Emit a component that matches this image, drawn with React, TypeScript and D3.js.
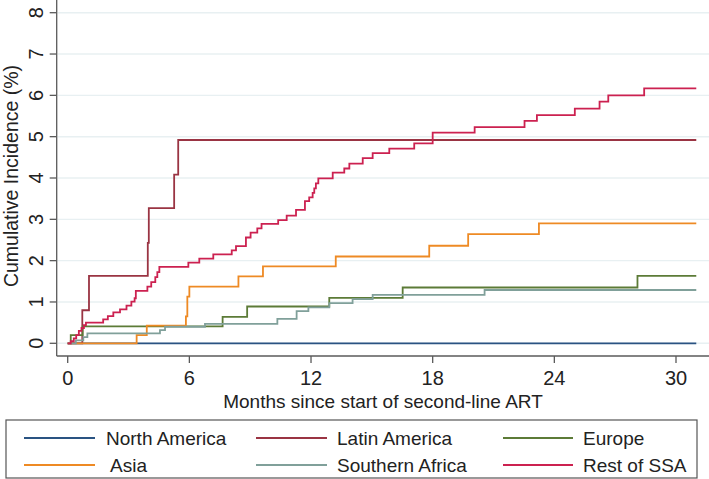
import React from "react";
import * as d3 from "d3";

type Pt = [number, number];

// Series (months since start of second-line ART, cumulative incidence %)
const northAmerica: Pt[] = [[0, 0], [31, 0]];
const latinAmerica: Pt[] = [[0, 0], [0.72, 0.8], [1.05, 1.63], [3.95, 2.43], [4.0, 3.27], [5.25, 4.08], [5.45, 4.92], [31, 4.92]];
const europe: Pt[] = [[0, 0], [0.15, 0.2], [0.74, 0.41], [7.64, 0.64], [8.85, 0.89], [12.9, 1.1], [16.52, 1.35], [28.1, 1.63], [31, 1.63]];
const asia: Pt[] = [[0, 0], [3.4, 0.2], [3.9, 0.43], [5.83, 0.65], [5.9, 1.13], [6.0, 1.37], [8.42, 1.62], [9.63, 1.86], [13.22, 2.1], [17.83, 2.36], [19.75, 2.64], [23.24, 2.9], [31, 2.9]];
const southernAfrica: Pt[] = [[0, 0], [0.4, 0.07], [0.77, 0.15], [0.97, 0.24], [4.55, 0.32], [4.8, 0.4], [6.77, 0.47], [10.34, 0.59], [11.29, 0.78], [11.87, 0.87], [12.9, 0.97], [14.05, 1.07], [15.04, 1.17], [20.56, 1.29], [31, 1.29]];
const restOfSSA: Pt[] = [[0, 0], [0.15, 0.05], [0.3, 0.12], [0.42, 0.2], [0.55, 0.3], [0.68, 0.37], [0.8, 0.44], [0.9, 0.5], [1.75, 0.58], [1.98, 0.66], [2.25, 0.75], [2.58, 0.82], [2.9, 0.91], [3.14, 1.01], [3.3, 1.09], [3.36, 1.27], [3.93, 1.37], [4.12, 1.48], [4.32, 1.6], [4.42, 1.72], [4.52, 1.85], [5.95, 1.95], [6.49, 2.05], [7.18, 2.15], [8.09, 2.25], [8.3, 2.35], [8.79, 2.56], [9.02, 2.68], [9.35, 2.78], [9.56, 2.89], [10.38, 2.98], [10.8, 3.09], [11.26, 3.23], [11.7, 3.44], [11.91, 3.53], [12.08, 3.64], [12.16, 3.75], [12.24, 3.87], [12.36, 3.99], [13.07, 4.13], [13.64, 4.23], [13.89, 4.35], [14.55, 4.48], [15.04, 4.6], [15.86, 4.71], [17.09, 4.84], [18.0, 5.1], [20.07, 5.23], [22.53, 5.38], [23.14, 5.52], [25.01, 5.68], [26.23, 5.85], [26.66, 6.0], [28.43, 6.17], [31, 6.17]];

const seriesNames = ["North America", "Latin America", "Europe", "Asia", "Southern Africa", "Rest of SSA"];
const seriesColors = ["#2a5382", "#9a3443", "#5c7b37", "#ee8a24", "#80a09a", "#cc2150"];
const seriesData = [northAmerica, latinAmerica, europe, asia, southernAfrica, restOfSSA];

const xTicks = [0, 6, 12, 18, 24, 30];
const yTicks = [0, 1, 2, 3, 4, 5, 6, 7, 8];
const xTitle = "Months since start of second-line ART";
const yTitle = "Cumulative Incidence (%)";

const FONT = "'Liberation Sans', Arial, Helvetica, sans-serif";

export default function App() {
  const W = 709;
  const H = 479;
  const axisX = 56.7;
  const axisY = 356;
  const x = d3.scaleLinear().domain([0, 30]).range([67.7, 676]);
  const y = d3.scaleLinear().domain([0, 8]).range([343.3, 12.7]);
  const line = d3
    .line<Pt>()
    .x((d) => x(d[0]))
    .y((d) => y(d[1]))
    .curve(d3.curveStepAfter);

  const legendCols = [
    { lx1: 24, lx2: 95, tx: 106 },
    { lx1: 256, lx2: 327, tx: 337 },
    { lx1: 503, lx2: 573, tx: 583 },
  ];
  const legendRows = [{ ly: 438, ty: 445 }, { ly: 465, ty: 472 }];

  return (
    <svg
      width={W}
      height={H}
      style={{ position: "absolute", left: 0, top: 0, background: "#fff" }}
      fontFamily={FONT}
    >
      <rect x={0} y={0} width={W} height={H} fill="#fff" />
      {/* gridlines */}
      {yTicks.map((t) => (
        <line key={"g" + t} x1={axisX + 1} x2={W} y1={y(t)} y2={y(t)} stroke="#e8f0f2" strokeWidth={1.4} />
      ))}
      {/* series */}
      {seriesData.map((d, i) => (
        <path key={seriesNames[i]} d={line(d) || ""} fill="none" stroke={seriesColors[i]} strokeWidth={1.8} />
      ))}
      {/* y axis */}
      <line x1={axisX} x2={axisX} y1={0} y2={axisY} stroke="#5a5a5a" strokeWidth={1.3} />
      {yTicks.map((t) => (
        <g key={"yt" + t}>
          <line x1={axisX - 7} x2={axisX} y1={y(t)} y2={y(t)} stroke="#5a5a5a" strokeWidth={1.3} />
          <text
            transform={`translate(43,${y(t)}) rotate(-90)`}
            textAnchor="middle"
            fontSize={20}
            fill="#222"
          >
            {t}
          </text>
        </g>
      ))}
      <text transform={`translate(18,176) rotate(-90)`} textAnchor="middle" fontSize={19.5} fill="#222">
        {yTitle}
      </text>
      {/* x axis */}
      <line x1={axisX} x2={W} y1={axisY} y2={axisY} stroke="#5a5a5a" strokeWidth={1.3} />
      {xTicks.map((t) => (
        <g key={"xt" + t}>
          <line x1={x(t)} x2={x(t)} y1={axisY} y2={axisY + 7} stroke="#5a5a5a" strokeWidth={1.3} />
          <text x={x(t)} y={385} textAnchor="middle" fontSize={20} fill="#222">
            {t}
          </text>
        </g>
      ))}
      <text x={383} y={408} textAnchor="middle" fontSize={19} fill="#222">
        {xTitle}
      </text>
      {/* legend */}
      <rect x={6} y={420} width={691} height={58} fill="#fff" stroke="#555" strokeWidth={1.2} />
      {seriesNames.map((name, i) => {
        const c = legendCols[i % 3];
        const r = legendRows[Math.floor(i / 3)];
        return (
          <g key={"lg" + name}>
            <line x1={c.lx1} x2={c.lx2} y1={r.ly} y2={r.ly} stroke={seriesColors[i]} strokeWidth={1.8} />
            <text x={c.tx + (name === "Asia" ? 4 : 0)} y={r.ty} fontSize={19} fill="#222">
              {name}
            </text>
          </g>
        );
      })}
    </svg>
  );
}
